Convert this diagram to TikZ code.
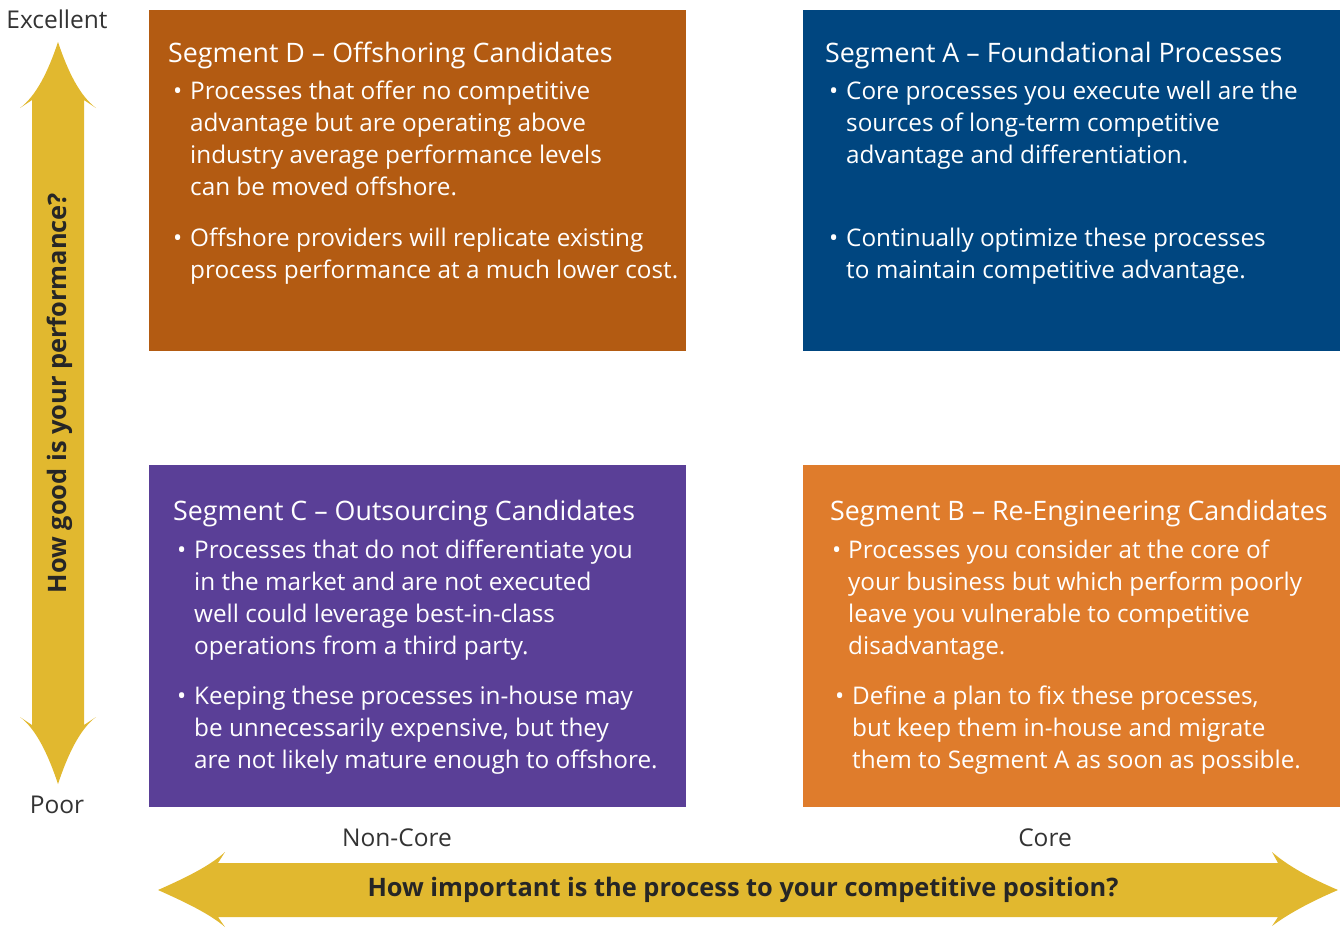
\documentclass[tikz,border=0pt]{standalone}
\usepackage{fontspec}
\setmainfont{Open Sans}
\definecolor{segD}{HTML}{B35B12}
\definecolor{segA}{HTML}{004680}
\definecolor{segC}{HTML}{5A3F97}
\definecolor{segB}{HTML}{DF7C2C}
\definecolor{arrowc}{HTML}{E1B82F}
\definecolor{labc}{HTML}{333333}
\begin{document}
\begin{tikzpicture}[x=1pt,y=-1pt,
  ttl/.style={anchor=base west,inner sep=0,text=white,font=\fontsize{26.8}{32}\selectfont},
  txt/.style={anchor=base west,inner sep=0,text=white,align=left,font=\fontsize{24.3}{32}\selectfont},
  bul/.style={anchor=base west,inner sep=0,text=white,font=\fontsize{24.3}{32}\selectfont},
  lab/.style={inner sep=0,text=labc,font=\fontsize{24.5}{28}\selectfont},
  axl/.style={inner sep=0,text=black!85,font=\fontsize{25.4}{28}\selectfont\bfseries}]
\useasboundingbox (0,0) rectangle (1344,927);
% boxes
\fill[segD] (149,10) rectangle (686,351);
\fill[segA] (803,10) rectangle (1340,351);
\fill[segC] (149,465) rectangle (686,807);
\fill[segB] (803,465) rectangle (1340,807);
% vertical arrow
\fill[arrowc] (58,42) .. controls (68,72) and (80,96) .. (96,108) -- (84,100) -- (84,725) -- (96,717)
  .. controls (80,729) and (68,754) .. (58,784) .. controls (48,754) and (36,729) .. (20,717)
  -- (32,725) -- (32,100) -- (20,108) .. controls (36,96) and (48,72) .. (58,42) -- cycle;
% horizontal arrow
\fill[arrowc] (158,890) .. controls (185,878) and (210,866) .. (225,852) -- (218,863) -- (1278,863) -- (1272,852)
  .. controls (1288,866) and (1310,878) .. (1338,890) .. controls (1310,902) and (1288,914) .. (1272,926)
  -- (1278,917) -- (218,917) -- (225,927) .. controls (210,914) and (185,902) .. (158,890) -- cycle;
% axis labels
\node[lab] (exc) at (57,19) {Excellent};
\node[lab] (poor) at (57,805) {Poor};
\node[lab] (nc) at (397,838) {Non-Core};
\node[lab] (core) at (1045,838) {Core};
\node[axl,rotate=90] (vax) at (60,393) {How good is your performance?};
\node[axl] (hax) at (743,890) {How important is the process to your competitive position?};
% Segment D
\node[ttl] (dt) at (168,62) {Segment D – Offshoring Candidates};
\node[bul] (d1b) at (173,99) {•};
\node[txt] (d1) at (190,195) {Processes that offer no competitive\\advantage but are operating above\\industry average performance levels\\can be moved offshore.};
\node[bul] (d2b) at (173,246) {•};
\node[txt] (d2) at (190,278) {Offshore providers will replicate existing\\process performance at a much lower cost.};
% Segment A
\node[ttl] (at) at (825,62) {Segment A – Foundational Processes};
\node[bul] (a1b) at (829,99) {•};
\node[txt] (a1) at (846,163) {Core processes you execute well are the\\sources of long-term competitive\\advantage and differentiation.};
\node[bul] (a2b) at (829,246) {•};
\node[txt] (a2) at (846,278) {Continually optimize these processes\\to maintain competitive advantage.};
% Segment C
\node[ttl] (ct) at (173,520) {Segment C – Outsourcing Candidates};
\node[bul] (c1b) at (177,558) {•};
\node[txt] (c1) at (194,654) {Processes that do not differentiate you\\in the market and are not executed\\well could leverage best-in-class\\operations from a third party.};
\node[bul] (c2b) at (177,704) {•};
\node[txt] (c2) at (194,768) {Keeping these processes in-house may\\be unnecessarily expensive, but they\\are not likely mature enough to offshore.};
% Segment B
\node[ttl] (bt) at (830,520) {Segment B – Re-Engineering Candidates};
\node[bul] (b1b) at (832,558) {•};
\node[txt] (b1) at (848,654) {Processes you consider at the core of\\your business but which perform poorly\\leave you vulnerable to competitive\\disadvantage.};
\node[bul] (b2b) at (835,704) {•};
\node[txt] (b2) at (852,768) {Define a plan to fix these processes,\\but keep them in-house and migrate\\them to Segment A as soon as possible.};
\end{tikzpicture}
\end{document}
